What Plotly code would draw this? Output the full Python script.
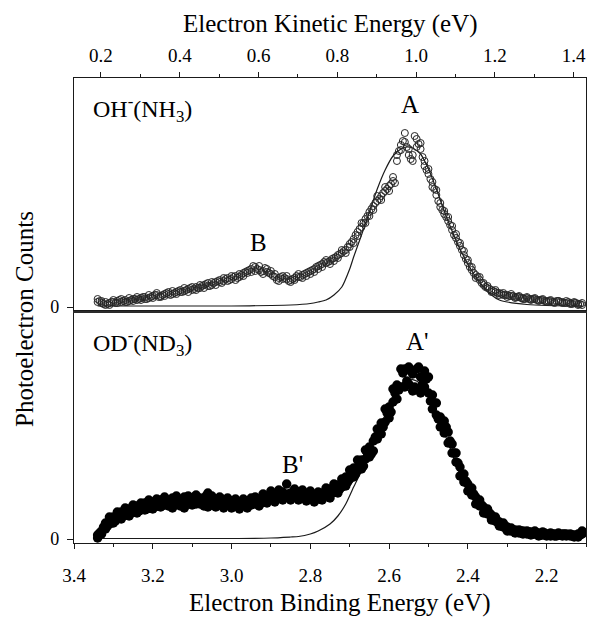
import plotly.graph_objects as go

# ---------------- data ----------------
ebe_grid = [3.34, 3.33, 3.32, 3.31, 3.30, 3.29, 3.28, 3.27, 3.26, 3.25,
            3.24, 3.23, 3.22, 3.21, 3.20, 3.19, 3.18, 3.17, 3.16, 3.15,
            3.14, 3.13, 3.12, 3.11, 3.10, 3.09, 3.08, 3.07, 3.06, 3.05,
            3.04, 3.03, 3.02, 3.01, 3.00, 2.99, 2.98, 2.97, 2.96, 2.95,
            2.94, 2.93, 2.92, 2.91, 2.90, 2.89, 2.88, 2.87, 2.86, 2.85,
            2.84, 2.83, 2.82, 2.81, 2.80, 2.79, 2.78, 2.77, 2.76, 2.75,
            2.74, 2.73, 2.72, 2.71, 2.70, 2.69, 2.68, 2.67, 2.66, 2.65,
            2.64, 2.63, 2.62, 2.61, 2.60, 2.59, 2.58, 2.57, 2.56, 2.55,
            2.54, 2.53, 2.52, 2.51, 2.50, 2.49, 2.48, 2.47, 2.46, 2.45,
            2.44, 2.43, 2.42, 2.41, 2.40, 2.39, 2.38, 2.37, 2.36, 2.35,
            2.34, 2.33, 2.32, 2.31, 2.30, 2.29, 2.28, 2.27, 2.26, 2.25,
            2.24, 2.23, 2.22, 2.21, 2.20, 2.19, 2.18, 2.17, 2.16, 2.15,
            2.14, 2.13, 2.12, 2.11]

ebe_half = [3.335, 3.325, 3.315, 3.305, 3.295, 3.285, 3.275, 3.265, 3.255, 3.245,
            3.235, 3.225, 3.215, 3.205, 3.195, 3.185, 3.175, 3.165, 3.155, 3.145,
            3.135, 3.125, 3.115, 3.105, 3.095, 3.085, 3.075, 3.065, 3.055, 3.045,
            3.035, 3.025, 3.015, 3.005, 2.995, 2.985, 2.975, 2.965, 2.955, 2.945,
            2.935, 2.925, 2.915, 2.905, 2.895, 2.885, 2.875, 2.865, 2.855, 2.845,
            2.835, 2.825, 2.815, 2.805, 2.795, 2.785, 2.775, 2.765, 2.755, 2.745,
            2.735, 2.725, 2.715, 2.705, 2.695, 2.685, 2.675, 2.665, 2.655, 2.645,
            2.635, 2.625, 2.615, 2.605, 2.595, 2.585, 2.575, 2.565, 2.555, 2.545,
            2.535, 2.525, 2.515, 2.505, 2.495, 2.485, 2.475, 2.465, 2.455, 2.445,
            2.435, 2.425, 2.415, 2.405, 2.395, 2.385, 2.375, 2.365, 2.355, 2.345,
            2.335, 2.325, 2.315, 2.305, 2.295, 2.285, 2.275, 2.265, 2.255, 2.245,
            2.235, 2.225, 2.215, 2.205, 2.195, 2.185, 2.175, 2.165, 2.155, 2.145,
            2.135, 2.125, 2.115]

# OH-(NH3) photoelectron counts (arbitrary units)
oh_counts_a = [8, 4, 2, 4, 5, 6, 5, 7, 6, 8,
               7, 9, 10, 9, 11, 12, 11, 13, 15, 13,
               15, 17, 16, 18, 17, 20, 19, 22, 24, 22,
               25, 27, 26, 29, 28, 31, 30, 34, 36, 38,
               40, 37, 36, 38, 33, 30, 29, 31, 28, 27,
               29, 30, 32, 34, 36, 38, 41, 43, 44, 46,
               49, 52, 54, 57, 63, 68, 75, 80, 88, 95,
               101, 106, 111, 116, 121, 126, 152, 162, 174, 152,
               146, 168, 158, 141, 133, 125, 112, 100, 93, 86,
               77, 69, 61, 52, 44, 37, 32, 27, 22, 19,
               17, 15, 14, 12, 12, 11, 10, 10, 9, 9,
               8, 8, 7, 7, 6, 6, 5, 6, 5, 4,
               4, 4, 3, 2]
oh_counts_b = [6, 3, 3, 5, 4, 7, 6, 5, 7, 8,
               8, 10, 8, 10, 12, 10, 12, 14, 12, 14,
               16, 15, 17, 19, 18, 19, 21, 23, 21, 24,
               26, 24, 28, 27, 30, 29, 32, 35, 37, 41,
               38, 35, 39, 34, 31, 27, 30, 29, 26, 28,
               31, 30, 33, 35, 37, 40, 42, 45, 45, 48,
               50, 53, 56, 60, 65, 72, 78, 84, 91, 98,
               104, 108, 114, 118, 123, 124, 156, 166, 160, 148,
               171, 163, 150, 137, 128, 118, 106, 97, 90, 82,
               72, 65, 57, 48, 40, 34, 30, 24, 20, 18,
               16, 14, 13, 12, 11, 11, 10, 9, 8, 8,
               8, 7, 7, 6, 6, 5, 6, 5, 4, 5,
               3, 4, 3]
oh_counts_c = [5, 6, 5, 2, 7, 4, 8, 5, 9, 6,
               10, 7, 8, 12, 9, 14, 10, 11, 13, 16,
               13, 15, 19, 15, 20, 17, 22, 19, 21, 25,
               22, 25, 29, 26, 31, 27, 33, 31, 34, 35,
               36, 41, 33, 35, 36, 33, 26, 28, 31, 25,
               27, 33, 29, 31, 33, 35, 38, 40, 47, 43,
               46, 49, 57, 54, 60, 64, 71, 84, 84, 91,
               97, 111, 107, 120, 116, 130, 146, 157, 165, 158,
               152, 160, 164, 146, 138, 120, 117, 104, 96, 90,
               81, 73, 64, 56, 47, 40, 29, 30, 24, 21,
               15, 17, 12, 14, 10, 13, 9, 11, 8, 10,
               7, 9, 6, 8, 5, 7, 4, 6, 4, 6,
               3, 5, 2, 4]

# OD-(ND3) photoelectron counts (arbitrary units)
od_counts_a = [1, 8, 16, 15, 22, 20, 27, 24, 30, 27,
               33, 29, 36, 31, 37, 33, 39, 34, 35, 41,
               35, 39, 42, 36, 40, 35, 41, 37, 46, 36,
               39, 34, 38, 35, 38, 33, 37, 34, 37, 34,
               35, 40, 37, 43, 40, 44, 41, 47, 42, 46,
               43, 47, 42, 45, 41, 44, 40, 46, 44, 50,
               47, 54, 52, 62, 60, 71, 69, 79, 80, 92,
               98, 100, 116, 117, 132, 137, 154, 152, 170, 155,
               165, 150, 162, 168, 146, 144, 124, 122, 106, 107,
               95, 77, 72, 57, 55, 44, 42, 33, 32, 25,
               24, 18, 17, 12, 12, 8, 9, 6, 8, 5,
               7, 5, 6, 4, 5, 3, 5, 4, 3, 5,
               3, 4, 2, 5]
od_counts_b = [6, 12, 13, 19, 18, 24, 23, 28, 26, 31,
               28, 34, 30, 36, 32, 38, 34, 38, 36, 35,
               38, 35, 39, 37, 42, 36, 39, 43, 37, 40,
               36, 40, 35, 38, 34, 37, 33, 36, 35, 38,
               39, 36, 42, 39, 45, 41, 44, 42, 45, 41,
               46, 42, 45, 41, 44, 41, 45, 43, 48, 46,
               52, 50, 58, 57, 66, 65, 75, 73, 86, 85,
               102, 107, 112, 126, 127, 146, 149, 166, 158, 168,
               152, 172, 155, 160, 138, 136, 120, 116, 112, 98,
               86, 76, 64, 58, 49, 45, 37, 34, 28, 26,
               20, 18, 14, 13, 10, 9, 7, 8, 6, 7,
               5, 6, 4, 6, 4, 5, 3, 4, 5, 4,
               4, 3, 4]
od_counts_c = [4, 5, 10, 22, 16, 27, 20, 31, 23, 34,
               26, 36, 29, 39, 30, 40, 32, 42, 33, 31,
               43, 33, 31, 43, 34, 44, 35, 33, 32, 43,
               32, 42, 31, 41, 31, 40, 30, 40, 31, 41,
               42, 33, 45, 36, 48, 37, 49, 39, 55, 39,
               50, 39, 49, 38, 48, 37, 47, 39, 51, 41,
               55, 46, 60, 53, 69, 62, 79, 70, 89, 82,
               88, 110, 105, 130, 121, 150, 140, 170, 152, 172,
               148, 170, 146, 152, 162, 130, 136, 112, 118, 96,
               86, 86, 63, 65, 48, 51, 35, 39, 26, 30,
               19, 22, 13, 16, 8, 11, 6, 9, 5, 8,
               4, 8, 3, 7, 3, 6, 3, 6, 5, 3,
               5, 2, 5, 8]

# fitted (simulated) envelopes
oh_fit_ebe = [3.34, 3.00, 2.90, 2.85, 2.80, 2.78, 2.76, 2.74, 2.72, 2.70, 2.69,
              2.67, 2.65, 2.63, 2.61, 2.59, 2.57, 2.555, 2.54, 2.52, 2.50,
              2.48, 2.46, 2.44, 2.42, 2.40, 2.38, 2.36, 2.34, 2.32, 2.30,
              2.25, 2.20, 2.11]
oh_fit_counts = [1, 1, 1.5, 2, 3.5, 5, 7, 12, 20, 38, 50,
                 72, 95, 118, 137, 151, 158, 160, 159, 153, 138,
                 118, 96, 76, 58, 43, 30, 20, 12, 7, 5,
                 2.5, 1.5, 1]
od_fit_ebe = [3.34, 3.00, 2.90, 2.85, 2.83, 2.80, 2.78, 2.75, 2.73, 2.71, 2.69,
              2.67, 2.65, 2.63, 2.61, 2.59, 2.57, 2.55, 2.53, 2.51, 2.49,
              2.47, 2.45, 2.43, 2.41, 2.39, 2.37, 2.35, 2.33, 2.30, 2.27,
              2.23, 2.11]
od_fit_counts = [0.5, 0.5, 1, 2, 2.5, 5, 8, 15, 23, 35, 52,
                 68, 87, 106, 124, 143, 155, 160, 158, 150, 133,
                 116, 96, 75, 55, 42, 31, 21, 13, 6, 3,
                 1, 0.5]

ebe_ticks = [3.4, 3.2, 3.0, 2.8, 2.6, 2.4, 2.2]
eke_ticks = [0.2, 0.4, 0.6, 0.8, 1.0, 1.2, 1.4]
photon_energy = 3.5315   # eKE = hv - eBE  (aligns the two energy scales)

FONT = "Liberation Serif"
INK = "#1a1a1a"

fig = go.Figure()

# top panel: OH-(NH3)
fig.add_trace(go.Scatter(x=oh_fit_ebe, y=oh_fit_counts, mode="lines",
                         line=dict(color=INK, width=1.2, shape="spline", smoothing=0.6),
                         xaxis="x2", yaxis="y2", hoverinfo="skip"))
fig.add_trace(go.Scatter(x=ebe_grid + ebe_half + ebe_grid,
                         y=oh_counts_a + oh_counts_b + oh_counts_c, mode="markers",
                         marker=dict(symbol="circle-open", size=7, color="#262626",
                                     line=dict(width=1, color="#262626")),
                         xaxis="x2", yaxis="y2", hoverinfo="skip"))
# invisible anchor for the kinetic-energy axis
fig.add_trace(go.Scatter(x=[photon_energy - e for e in ebe_ticks[:1]], y=[None], mode="markers",
                         marker=dict(opacity=0), xaxis="x3", yaxis="y2", hoverinfo="skip"))

# bottom panel: OD-(ND3)
fig.add_trace(go.Scatter(x=od_fit_ebe, y=od_fit_counts, mode="lines",
                         line=dict(color=INK, width=1.2, shape="spline", smoothing=0.6),
                         xaxis="x", yaxis="y", hoverinfo="skip"))
fig.add_trace(go.Scatter(x=ebe_grid + ebe_half + ebe_grid,
                         y=od_counts_a + od_counts_b + od_counts_c, mode="markers",
                         marker=dict(symbol="circle", size=9.5, color="#000000"),
                         xaxis="x", yaxis="y", hoverinfo="skip"))

ebe_range = [3.4, 2.1]
eke_range = [photon_energy - 3.4, photon_energy - 2.1]
split = (543 - 311) / 465.0

axis_common = dict(showgrid=False, zeroline=False, showline=True, linecolor=INK, linewidth=1.3)

fig.update_layout(
    width=589, height=618,
    margin=dict(l=74, r=3, t=78, b=75),
    paper_bgcolor="white", plot_bgcolor="white",
    showlegend=False,
    font=dict(family=FONT, color="#000000"),
    xaxis=dict(**axis_common, range=ebe_range, anchor="y", mirror=True,
               tickvals=ebe_ticks, ticktext=[f"{t:.1f}" for t in ebe_ticks],
               ticks="outside", ticklen=5, tickwidth=1.2, tickcolor=INK, ticklabelstandoff=10,
               minor=dict(dtick=0.1, tick0=3.4, ticks="outside", ticklen=3, tickcolor=INK, tickwidth=1),
               tickfont=dict(size=19, family=FONT)),
    yaxis=dict(**axis_common, domain=[0, split], range=[-4, 228], mirror=True,
               tickvals=[0], ticktext=["0"], ticks="outside", ticklen=6, tickcolor=INK,
               ticklabelstandoff=4, tickfont=dict(size=18, family=FONT)),
    xaxis2=dict(showgrid=False, zeroline=False, showline=True, linecolor="#2b2b2b", linewidth=2.2,
                range=ebe_range, anchor="y2", showticklabels=False, ticks=""),
    yaxis2=dict(**axis_common, domain=[split, 1], range=[-4, 229], mirror=True, anchor="x2",
                tickvals=[0], ticktext=["0"], ticks="outside", ticklen=6, tickcolor=INK,
                ticklabelstandoff=4, tickfont=dict(size=18, family=FONT)),
    xaxis3=dict(**axis_common, range=eke_range, overlaying="x2", anchor="y2", side="top",
                tickvals=eke_ticks, ticktext=[f"{t:.1f}" for t in eke_ticks],
                ticks="outside", ticklen=5, tickwidth=1.2, tickcolor=INK, ticklabelstandoff=2,
                minor=dict(dtick=0.1, tick0=0.2, ticks="outside", ticklen=3, tickcolor=INK, tickwidth=1),
                tickfont=dict(size=19, family=FONT)),
)

annotations = [
    dict(text="Electron Kinetic Energy (eV)", xref="paper", yref="paper", x=0.5, y=(543 - 23.5) / 465,
         showarrow=False, font=dict(size=25, family=FONT), xanchor="center", yanchor="middle"),
    dict(text="Electron Binding Energy (eV)", xref="paper", yref="paper", x=(340 - 74) / 512, y=(543 - 603) / 465,
         showarrow=False, font=dict(size=25, family=FONT), xanchor="center", yanchor="middle"),
    dict(text="Photoelectron Counts", xref="paper", yref="paper", x=(24 - 74) / 512, y=(543 - 319) / 465,
         showarrow=False, font=dict(size=25, family=FONT), textangle=-90, xanchor="center", yanchor="middle"),
    dict(text="OH<sup>-</sup>(NH<sub>3</sub>)", xref="x2", yref="y2", x=3.356, y=198,
         showarrow=False, font=dict(size=24, family=FONT), xanchor="left", yanchor="middle"),
    dict(text="A", xref="x2", yref="y2", x=2.548, y=203, showarrow=False,
         font=dict(size=25, family=FONT), xanchor="center", yanchor="middle"),
    dict(text="B", xref="x2", yref="y2", x=2.932, y=65, showarrow=False,
         font=dict(size=25, family=FONT), xanchor="center", yanchor="middle"),
    dict(text="OD<sup>-</sup>(ND<sub>3</sub>)", xref="x", yref="y", x=3.356, y=196,
         showarrow=False, font=dict(size=24, family=FONT), xanchor="left", yanchor="middle"),
    dict(text="A'", xref="x", yref="y", x=2.529, y=198, showarrow=False,
         font=dict(size=25, family=FONT), xanchor="center", yanchor="middle"),
    dict(text="B'", xref="x", yref="y", x=2.846, y=75, showarrow=False,
         font=dict(size=25, family=FONT), xanchor="center", yanchor="middle"),
]
fig.update_layout(annotations=annotations)

fig.write_html("out.html")
